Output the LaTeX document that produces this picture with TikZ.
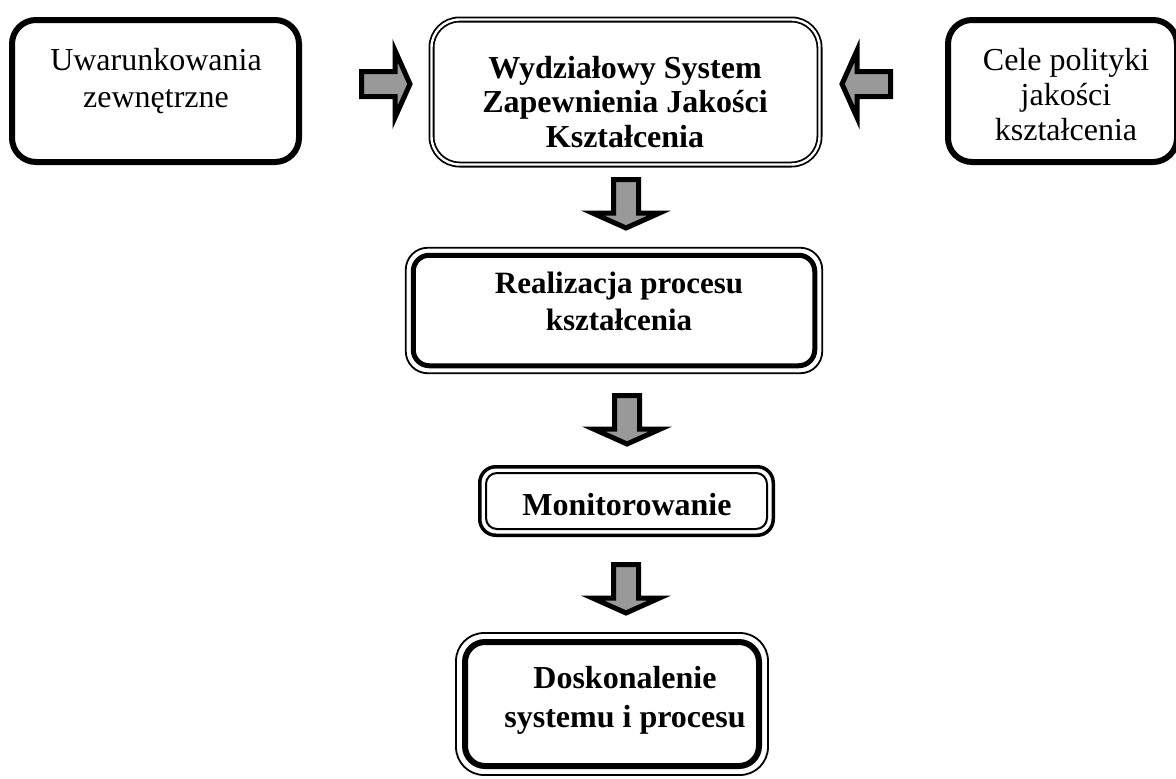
\documentclass[tikz,border=0pt]{standalone}
\usepackage{fontspec}
\setmainfont{Liberation Serif}
\usetikzlibrary{calc}
\definecolor{arrgray}{HTML}{999999}
\begin{document}
\begin{tikzpicture}[x=1pt,y=-1pt,
  boxbase/.style={rectangle,inner sep=0pt,outer sep=0pt,fill=white},
  thickbox/.style={boxbase,draw=black,line width=6pt,rounded corners=24pt},
  dblbox/.style={boxbase,draw=black,double=white,line width=1.8pt,double distance=2.4pt,rounded corners=28pt},
  thinouter/.style={boxbase,draw=black,line width=1.8pt},
  thickouter/.style={boxbase,draw=black,line width=3.5pt},
  txt/.style={inner sep=0pt,align=center,anchor=north},
  blockarr/.style={draw=black,fill=arrgray,line width=5pt,miter limit=10}
]
\useasboundingbox (0,0) rectangle (1176,779);

% boxes
\node[thickbox,minimum width=287pt,minimum height=142pt] (u) at (155.5,91) {};
\node[dblbox,minimum width=388pt,minimum height=145pt] (w) at (625.5,92) {};
\node[thickbox,minimum width=229pt,minimum height=142pt] (c) at (1062.5,91) {};
\node[thinouter,rounded corners=22pt,minimum width=416.5pt,minimum height=125.5pt] (r) at (614,310.5) {};
\draw[line width=5pt,rounded corners=16pt] ($(r.north west)+(7.5,7.5)$) rectangle ($(r.south east)+(-7.5,-7.5)$);
\node[thickouter,rounded corners=16pt,minimum width=293.5pt,minimum height=68.5pt] (m) at (626.5,501) {};
\draw[line width=2pt,rounded corners=11pt] ($(m.north west)+(6.25,6.25)$) rectangle ($(m.south east)+(-6.25,-6.25)$);
\node[thinouter,rounded corners=28pt,minimum width=312pt,minimum height=142pt] (d) at (612,704) {};
\draw[line width=6pt,rounded corners=20pt] ($(d.north west)+(9,9)$) rectangle ($(d.south east)+(-9,-9)$);

% texts
\node[txt,font=\fontsize{32}{37}\selectfont] (ut) at (156,44.1) {\strut Uwarunkowania\\zewnętrzne};
\node[txt,font=\fontsize{32}{34.5}\selectfont\bfseries] (wt) at (625,53.85) {\strut Wydziałowy System\\Zapewnienia Jakości\\Kształcenia};
\node[txt,font=\fontsize{32}{35}\selectfont] (ct) at (1066,45.5) {\strut Cele polityki\\jakości\\kształcenia};
\node[txt,font=\fontsize{31}{37}\selectfont\bfseries] (rt) at (619,267.1) {\strut Realizacja procesu\\kształcenia};
\node[txt,font=\fontsize{32}{37}\selectfont\bfseries] (mt) at (627,489.1) {\strut Monitorowanie};
\node[txt,font=\fontsize{32}{39}\selectfont\bfseries] (dt) at (625,660.7) {\strut Doskonalenie\\systemu i procesu};

% block arrows
\draw[blockarr,shift={(359,84)}] (2.5,-12.5) -- (36,-12.5) -- (36,-33.5) -- (51,0) -- (36,33.5) -- (36,12.5) -- (2.5,12.5) -- cycle;
\draw[blockarr,shift={(893,84)},xscale=-1] (2.5,-12.5) -- (36,-12.5) -- (36,-33.5) -- (51,0) -- (36,33.5) -- (36,12.5) -- (2.5,12.5) -- cycle;
\draw[blockarr,shift={(626,177)}] (-12.5,2.5) -- (12.5,2.5) -- (12.5,36) -- (33.5,36) -- (0,51) -- (-33.5,36) -- (-12.5,36) -- cycle;
\draw[blockarr,shift={(627,393)}] (-12.5,2.5) -- (12.5,2.5) -- (12.5,36) -- (33.5,36) -- (0,51) -- (-33.5,36) -- (-12.5,36) -- cycle;
\draw[blockarr,shift={(626,562)}] (-12.5,2.5) -- (12.5,2.5) -- (12.5,36) -- (33.5,36) -- (0,51) -- (-33.5,36) -- (-12.5,36) -- cycle;
\end{tikzpicture}
\end{document}
